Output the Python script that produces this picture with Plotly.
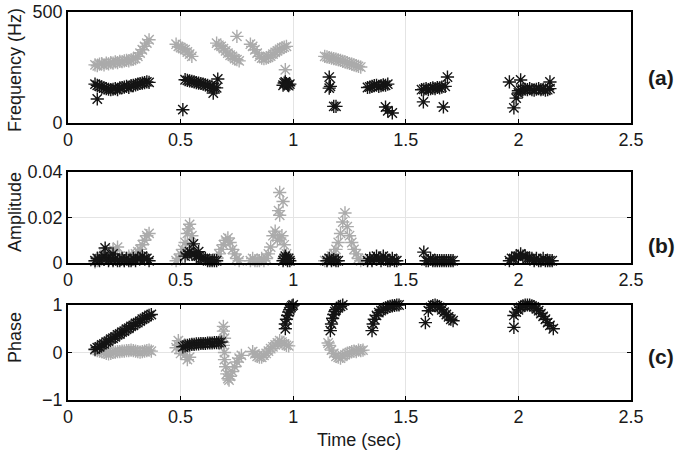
import plotly.graph_objects as go
from plotly.subplots import make_subplots

# ---------------- Panel (a): Frequency (Hz) ----------------
a_gray_t = [0.12,0.13,0.14,0.15,0.16,0.17,0.18,0.19,0.20,0.21,0.22,0.23,0.24,0.25,0.26,0.27,0.28,0.29,0.30,0.31,0.32,0.33,0.34,0.35,0.36,
            0.48,0.49,0.50,0.51,0.52,0.53,0.54,0.55,
            0.66,0.67,0.68,0.69,0.70,0.71,0.72,0.73,0.74,0.75,0.76,0.75,
            0.81,0.82,0.83,0.84,0.85,0.86,0.87,0.88,0.89,0.90,0.91,0.92,0.93,0.94,0.95,0.96,0.97,0.965,
            1.14,1.15,1.16,1.17,1.18,1.19,1.20,1.21,1.22,1.23,1.24,1.25,1.26,1.27,1.28,1.29,1.30]
a_gray_v = [262,258,265,268,262,270,266,272,270,275,272,278,276,280,282,280,285,288,290,300,315,330,345,360,375,
            355,345,340,335,330,320,310,300,
            360,350,345,335,325,315,305,300,290,285,280,390,
            355,345,330,315,300,292,290,292,296,302,310,318,325,332,338,342,345,240,
            300,298,295,292,290,288,285,282,278,275,272,268,265,262,258,255,252]

a_black_t = [0.12,0.13,0.14,0.15,0.16,0.17,0.18,0.19,0.20,0.21,0.22,0.23,0.24,0.25,0.26,0.27,0.28,0.29,0.30,0.31,0.32,0.33,0.34,0.35,0.36,0.13,
             0.52,0.53,0.54,0.55,0.56,0.57,0.58,0.59,0.60,0.61,0.62,0.63,0.64,0.65,0.66,0.51,0.665,0.645,
             0.955,0.96,0.965,0.97,0.975,0.98,0.985,
             1.16,1.16,1.165,1.18,1.19,
             1.33,1.34,1.35,1.36,1.37,1.38,1.39,1.40,1.41,1.42,1.41,1.42,1.44,
             1.57,1.58,1.59,1.60,1.61,1.62,1.63,1.64,1.65,1.66,1.675,1.685,1.578,1.667,
             2.00,2.01,2.02,2.03,2.04,2.05,2.06,2.07,2.08,2.09,2.10,2.11,2.12,2.13,2.14,1.96,2.01,2.14,1.98,1.99,2.00]
a_black_v = [175,170,165,162,158,155,152,150,152,155,150,158,160,162,165,160,168,170,172,175,178,180,182,185,183,108,
             195,192,190,188,185,182,180,178,175,172,170,165,162,160,158,60,198,135,
             170,180,185,178,172,168,175,
             207,157,165,75,75,
             160,162,165,168,170,165,168,172,170,175,72,55,45,
             150,152,155,150,155,158,155,160,158,162,165,207,95,72,
             145,148,150,152,150,155,150,148,152,155,150,152,148,150,155,185,194,185,68,112,135]

# ---------------- Panel (b): Amplitude ----------------
b_gray_t = [0.12,0.13,0.14,0.15,0.16,0.17,0.18,0.19,0.20,0.21,0.22,0.23,0.24,0.25,0.26,0.27,0.28,0.29,0.30,0.31,0.32,0.33,0.34,0.35,0.36,
            0.48,0.49,0.50,0.51,0.52,0.53,0.54,0.55,0.535,0.545,
            0.66,0.67,0.68,0.69,0.70,0.71,0.72,0.73,0.74,0.75,0.76,
            0.81,0.82,0.83,0.84,0.85,0.86,0.87,0.88,0.89,0.90,0.91,0.92,0.93,0.94,0.95,0.96,0.97,0.94,0.955,0.935,0.94,
            1.14,1.15,1.16,1.17,1.18,1.19,1.20,1.21,1.22,1.23,1.24,1.25,1.26,1.27,1.28,1.29,1.30]
b_gray_v = [0.0005,0.001,0.002,0.003,0.004,0.005,0.004,0.003,0.006,0.004,0.007,0.003,0.002,0.001,0.002,0.003,0.002,0.003,0.004,0.005,0.006,0.008,0.010,0.012,0.013,
            0.001,0.002,0.004,0.006,0.009,0.013,0.017,0.012,0.015,0.008,
            0.002,0.004,0.006,0.008,0.010,0.011,0.009,0.006,0.004,0.002,0.001,
            0.001,0.002,0.001,0.001,0.001,0.002,0.001,0.002,0.004,0.007,0.012,0.014,0.010,0.011,0.012,0.008,0.004,0.031,0.027,0.023,0.021,
            0.001,0.001,0.002,0.003,0.004,0.006,0.009,0.013,0.018,0.022,0.016,0.012,0.009,0.006,0.004,0.002,0.001]

b_black_t = [0.12,0.13,0.14,0.15,0.16,0.17,0.18,0.19,0.20,0.21,0.22,0.23,0.24,0.25,0.26,0.27,0.28,0.29,0.30,0.31,0.32,0.33,0.34,0.35,0.36,0.165,0.20,
             0.52,0.53,0.54,0.55,0.56,0.57,0.58,0.59,0.60,0.61,0.62,0.63,0.64,0.65,0.66,0.557,0.58,
             0.955,0.96,0.965,0.97,0.975,0.98,0.985,
             1.15,1.16,1.17,1.18,1.19,1.20,
             1.33,1.34,1.35,1.36,1.37,1.38,1.39,1.40,1.41,1.42,1.43,1.44,1.45,1.46,
             1.58,1.59,1.60,1.61,1.62,1.63,1.64,1.65,1.66,1.67,1.68,1.69,1.70,1.71,
             1.96,1.97,1.98,1.99,2.00,2.01,2.02,2.03,2.04,2.05,2.06,2.07,2.08,2.09,2.10,2.11,2.12,2.13,2.14,2.15]
b_black_v = [0.001,0.002,0.001,0.002,0.003,0.002,0.001,0.002,0.001,0.002,0.001,0.001,0.002,0.001,0.002,0.001,0.001,0.002,0.001,0.002,0.002,0.003,0.002,0.002,0.001,0.0066,0.004,
             0.003,0.004,0.005,0.004,0.004,0.003,0.003,0.002,0.002,0.002,0.001,0.001,0.001,0.001,0.001,0.0084,0.005,
             0.001,0.002,0.003,0.002,0.001,0.002,0.001,
             0.001,0.002,0.001,0.0015,0.001,0.001,
             0.001,0.002,0.001,0.002,0.003,0.002,0.001,0.003,0.002,0.001,0.001,0.002,0.001,0.001,
             0.0048,0.001,0.001,0.002,0.001,0.001,0.001,0.001,0.001,0.001,0.001,0.001,0.001,0.001,
             0.001,0.002,0.002,0.003,0.003,0.004,0.003,0.003,0.002,0.002,0.002,0.001,0.002,0.001,0.001,0.002,0.001,0.001,0.001,0.001]

# ---------------- Panel (c): Phase ----------------
c_gray_t = [0.12,0.13,0.14,0.15,0.16,0.17,0.18,0.19,0.20,0.21,0.22,0.23,0.24,0.25,0.26,0.27,0.28,0.29,0.30,0.31,0.32,0.33,0.34,0.35,0.36,0.37,
            0.48,0.49,0.50,0.51,0.52,0.53,0.54,0.50,0.49,
            0.69,0.69,0.695,0.69,0.695,0.695,0.70,0.705,0.71,0.715,0.72,0.73,0.74,0.75,0.76,0.77,
            0.82,0.83,0.84,0.85,0.86,0.87,0.88,0.89,0.90,0.91,0.92,0.93,0.94,0.95,0.96,0.97,0.98,
            1.155,1.16,1.17,1.18,1.19,1.20,1.21,1.22,1.23,1.24,1.25,1.26,1.27,1.28,1.29,1.30,1.31]
c_gray_v = [0.05,0.04,0.03,0.02,0.00,-0.02,-0.03,-0.02,0.00,0.01,0.02,0.02,0.03,0.03,0.04,0.04,0.05,0.04,0.03,0.02,0.01,0.02,0.03,0.04,0.05,0.03,
            0.10,0.25,0.20,0.05,-0.05,-0.15,-0.10,-0.02,0.15,
            0.55,0.45,0.30,0.15,0.00,-0.15,-0.30,-0.45,-0.55,-0.58,-0.50,-0.40,-0.30,-0.20,-0.12,-0.06,
            0.02,-0.03,-0.08,-0.10,-0.10,-0.06,-0.02,0.03,0.08,0.12,0.16,0.20,0.25,0.22,0.18,0.15,0.14,
            0.20,0.15,0.05,-0.02,-0.08,-0.10,-0.12,-0.08,-0.05,-0.02,0.00,0.02,0.03,0.02,0.05,0.04,0.05]

c_black_t = [0.12,0.13,0.14,0.15,0.16,0.17,0.18,0.19,0.20,0.21,0.22,0.23,0.24,0.25,0.26,0.27,0.28,0.29,0.30,0.31,0.32,0.33,0.34,0.35,0.36,0.37,
             0.51,0.52,0.53,0.54,0.55,0.56,0.57,0.58,0.59,0.60,0.61,0.62,0.63,0.64,0.65,0.66,0.67,0.68,
             0.965,0.965,0.97,0.975,0.98,0.985,0.99,0.995,1.00,
             1.165,1.17,1.175,1.18,1.185,1.19,1.20,1.21,1.22,
             1.35,1.355,1.36,1.37,1.38,1.39,1.40,1.41,1.42,1.43,1.44,1.45,1.46,1.47,
             1.587,1.60,1.61,1.62,1.63,1.64,1.65,1.66,1.67,1.68,1.69,1.70,1.71,
             1.98,1.98,1.99,2.00,2.01,2.02,2.03,2.04,2.05,2.06,2.07,2.08,2.09,2.10,2.11,2.12,2.13,2.14,2.155]
c_black_v = [0.07,0.10,0.12,0.16,0.18,0.22,0.24,0.28,0.30,0.33,0.37,0.39,0.43,0.45,0.49,0.51,0.55,0.57,0.61,0.63,0.66,0.70,0.72,0.75,0.78,0.80,
             0.12,0.14,0.15,0.16,0.17,0.17,0.18,0.18,0.19,0.19,0.19,0.20,0.20,0.20,0.21,0.21,0.21,0.22,
             0.50,0.60,0.70,0.78,0.85,0.90,0.95,0.98,1.00,
             0.46,0.60,0.72,0.80,0.86,0.90,0.94,0.97,1.00,
             0.46,0.60,0.70,0.78,0.84,0.88,0.91,0.94,0.96,0.97,0.98,0.99,1.00,1.00,
             0.63,0.88,0.95,0.99,1.00,0.98,0.95,0.90,0.85,0.80,0.75,0.70,0.67,
             0.53,0.78,0.85,0.90,0.95,0.98,1.00,1.00,1.00,0.98,0.96,0.92,0.88,0.82,0.76,0.70,0.63,0.57,0.50]

x_ticks = [0, 0.5, 1, 1.5, 2, 2.5]
x_tick_labels = ["0", "0.5", "1", "1.5", "2", "2.5"]
a_ticks = [0, 500]
b_ticks = [0, 0.02, 0.04]
b_tick_labels = ["0", "0.02", "0.04"]
c_ticks = [-1, 0, 1]

GRAY = "#ababab"
BLACK = "#141414"
FONT = "Liberation Sans, Arial, sans-serif"

fig = make_subplots(rows=3, cols=1)

def add(t, v, color, row):
    fig.add_trace(go.Scatter(
        x=t, y=v, mode="markers", cliponaxis=False, showlegend=False,
        marker=dict(symbol="asterisk-open", size=11, color=color,
                    line=dict(color=color, width=1.4))), row=row, col=1)

add(a_gray_t, a_gray_v, GRAY, 1)
add(a_black_t, a_black_v, BLACK, 1)
add(b_gray_t, b_gray_v, GRAY, 2)
add(b_black_t, b_black_v, BLACK, 2)
add(c_gray_t, c_gray_v, GRAY, 3)
add(c_black_t, c_black_v, BLACK, 3)

W, H = 682, 455

def px(x):
    return x / W

def py(y):
    return 1 - y / H

xd = [px(68), px(631)]
doms = [[py(123), py(12)], [py(263), py(172)], [py(400), py(305)]]

axis_common = dict(showline=True, linecolor="black", linewidth=1.6, mirror="ticks",
                   ticks="inside", ticklen=4, tickwidth=1.3, tickcolor="black",
                   showgrid=True, gridcolor="#e4e4e4", gridwidth=1, zeroline=False,
                   automargin=False, ticklabeloverflow="allow",
                   tickfont=dict(size=18, color="#1a1a1a", family=FONT))

for i in range(3):
    fig.update_xaxes(domain=xd, range=[0, 2.5], tickvals=x_ticks, ticktext=x_tick_labels,
                     row=i + 1, col=1, **axis_common)
    fig.update_yaxes(domain=doms[i], row=i + 1, col=1, **axis_common)

fig.update_yaxes(range=[0, 500], tickvals=a_ticks, row=1, col=1)
fig.update_yaxes(range=[0, 0.04], tickvals=b_ticks, ticktext=b_tick_labels, row=2, col=1)
fig.update_yaxes(range=[-1, 1], tickvals=c_ticks, row=3, col=1)

ann = []
for text, yp in [("Frequency (Hz)", 70), ("Amplitude", 212), ("Phase", 338)]:
    ann.append(dict(text=text, x=px(15), y=py(yp), xref="paper", yref="paper",
                    textangle=-90, showarrow=False, xanchor="center", yanchor="middle",
                    font=dict(size=18, color="#1a1a1a", family=FONT)))
for text, yp in [("(a)", 77), ("(b)", 246), ("(c)", 356)]:
    ann.append(dict(text="<b>" + text + "</b>", x=px(661), y=py(yp), xref="paper", yref="paper",
                    showarrow=False, xanchor="center", yanchor="middle",
                    font=dict(size=21, color="#1a1a1a", family=FONT)))
ann.append(dict(text="Time (sec)", x=px(359), y=py(440), xref="paper", yref="paper",
                showarrow=False, xanchor="center", yanchor="middle",
                font=dict(size=18, color="#1a1a1a", family=FONT)))

fig.update_layout(width=W, height=H, margin=dict(l=0, r=0, t=0, b=0),
                  paper_bgcolor="white", plot_bgcolor="white", annotations=ann,
                  font=dict(family=FONT, color="black"))

# remove the default page margin so the 682x455 figure fills the window exactly
fig.write_html("out.html", config={"displayModeBar": False},
               post_script="document.body.style.margin='0px';")
